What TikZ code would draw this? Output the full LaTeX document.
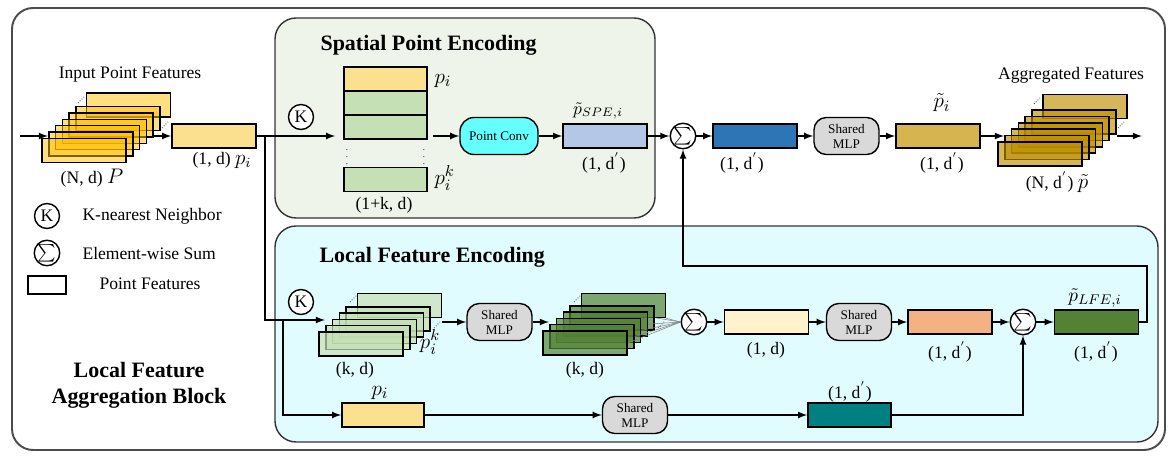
\documentclass[tikz,border=0pt]{standalone}
\usepackage{fontspec}
\setmainfont{Liberation Serif}
\usetikzlibrary{calc,positioning}

\definecolor{inyel}{HTML}{FFC000}
\definecolor{fyellow}{HTML}{FAE08F}
\definecolor{spebg}{HTML}{EEF4E9}
\definecolor{lfebg}{HTML}{E0FCFF}
\definecolor{lgreen}{HTML}{C5E0B4}
\definecolor{dgreen}{HTML}{548235}
\definecolor{pcyan}{HTML}{66FFFF}
\definecolor{pblue}{HTML}{B4C7E7}
\definecolor{dblue}{HTML}{2E75B6}
\definecolor{mlpgray}{HTML}{D9D9D9}
\definecolor{gold}{HTML}{D6B450}
\definecolor{aggold}{HTML}{C09000}
\definecolor{cream}{HTML}{FFF2CC}
\definecolor{orange}{HTML}{F4B183}
\definecolor{teal}{HTML}{008080}

\begin{document}
\begin{tikzpicture}[x=0.02cm,y=-0.02cm,line width=0.8pt,
    feat/.style={draw,line width=0.9pt,minimum width=1.68cm,minimum height=0.48cm,inner sep=0pt},
    mlp/.style={draw,fill=mlpgray,rounded corners=7pt,minimum width=1.3cm,minimum height=0.74cm,inner sep=0pt,align=center,font=\fontsize{7.5}{8.5}\selectfont},
    op/.style={draw,fill=white,circle,minimum size=0.5cm,inner sep=0pt,font=\fontsize{10}{10}\selectfont},
    lbl/.style={font=\fontsize{10}{12}\selectfont},
    mth/.style={font=\fontsize{13}{13}\selectfont},
    ttl/.style={font=\bfseries\fontsize{12.5}{15}\selectfont},
    arr/.style={-latex}]
    \fill[white] (0,0) rectangle (1174,459);
    \useasboundingbox (0,0) rectangle (1174,459);

    \draw [rounded corners=12pt,line width=1.1pt,draw=black!70] (12,8) rectangle (1165,450);
    \draw [rounded corners=12pt,fill=spebg,draw=black!80] (275,18) rectangle (655,218);
    \draw [rounded corners=12pt,fill=lfebg,draw=black!80] (275,226) rectangle (1158,442);
    \node [ttl,anchor=west] (spet) at (314,45) {Spatial Point Encoding};
    \node [ttl,anchor=west] (lfet) at (313,257) {Local Feature Encoding};

    % input point features
    \node [lbl] (intxt) at (130,75) {Input Point Features};
    \node [feat,fill=inyel,fill opacity=0.5] (inb) at (128.5,105) {};
    \foreach \i in {5,...,0}
        \node [feat,fill=inyel,fill opacity=0.5] (in\i) at ({84+6.8*\i},{150.5-6.4*\i}) {};
    \node [lbl] (inlbl) at (92,178) {(N, d) {\large$P$}};
    \coordinate (start) at (20,136);
    \draw [arr] (start) -- (start -| in1.west);

    \node [feat,fill=fyellow] (pi) at (214,136) {};
    \node [lbl] (pilbl) at (222,160) {(1, d) {\large$p_i$}};
    \draw [arr] (in4.east |- pi) -- (pi);

    % spatial point encoding
    \node [op] (k1) at (301,117) {K};
    \node [feat,fill=fyellow,minimum width=1.66cm] (s1) at (385.5,79) {};
    \node [feat,fill=lgreen,minimum width=1.66cm] (s2) at (385.5,103) {};
    \node [feat,fill=lgreen,minimum width=1.66cm] (s3) at (385.5,127) {};
    \node [feat,fill=lgreen,minimum width=1.66cm] (s4) at (385.5,179.5) {};
    \node [font=\tiny] (vd1) at (347,152) {$\vdots$};
    \node [font=\tiny] (vd2) at (424,152) {$\vdots$};
    \node [mth,anchor=west] (s1lbl) at (428,81) {$p_i$};
    \node [mth,anchor=west] (s4lbl) at (428,178) {$p_i^k$};
    \node [lbl] (slbl) at (384,205) {(1+k, d)};
    \node [draw,fill=pcyan,rounded corners=8pt,minimum width=1.56cm,minimum height=0.74cm,inner sep=0pt,font=\fontsize{7.5}{8.5}\selectfont] (pc) at (499,136) {Point Conv};
    \node [feat,fill=pblue] (pspe) at (605,136) {};
    \node [font=\fontsize{10}{10}\selectfont] (pspelbl) at (598,111) {$\tilde{p}_{SPE,i}$};
    \node [lbl] (pspedim) at (604,163) {(1, d$^{'}$)};

    \coordinate (br1) at (265,136);
    \coordinate (br2) at (283,320);
    \draw [arr,shorten >=0.16cm] (pi.east) -- (pi.east -| s3.west);
    \draw [arr,shorten <=0.1cm] (s3.east |- pc) -- (pc);
    \draw [arr] (pc) -- (pspe);

    % aggregation
    \node [op] (sum1) at (683,136) {$\sum$};
    \node [feat,fill=dblue] (blue) at (755,136) {};
    \node [lbl] (bluedim) at (742,163) {(1, d$^{'}$)};
    \node [mlp] (mlp1) at (846.5,136) {Shared\\MLP};
    \node [feat,fill=gold] (gold) at (938,136) {};
    \node [mth] (goldlbl) at (942,103) {$\tilde{p}_i$};
    \node [lbl] (golddim) at (942,163) {(1, d$^{'}$)};
    \node [lbl] (agtxt) at (1071,75) {Aggregated Features};
    \node [feat,fill=aggold,fill opacity=0.65] (agb) at (1085,106.5) {};
    \foreach \i in {5,...,0}
        \node [feat,fill=aggold,fill opacity=0.65] (ag\i) at ({1040+6.8*\i},{154-6.4*\i}) {};
    \node [lbl] (aglbl) at (1057,182) {(N, d$^{'}$) {\large$\tilde{p}$}};
    \coordinate (out) at (1142,136);
    \draw [arr] (pspe) -- (sum1);
    \draw [arr] (sum1) -- (blue);
    \draw [arr] (blue) -- (mlp1);
    \draw [arr] (mlp1) -- (gold);
    \draw [arr] (gold) -- (gold -| ag1.west);
    \draw [arr] (ag5.east |- out) -- (out);

    % legend
    \node [op] (lk) at (47,216) {K};
    \node [lbl,anchor=west] (lktxt) at (76,216) {K-nearest Neighbor};
    \node [op] (ls) at (47,253) {$\sum$};
    \node [lbl,anchor=west] (lstxt) at (76,253) {Element-wise Sum};
    \node [draw,line width=0.9pt,minimum width=0.76cm,minimum height=0.36cm,inner sep=0pt] (lf) at (47,285) {};
    \node [lbl,anchor=west] (lftxt) at (93,284) {Point Features};
    \node [ttl,align=center] (block) at (139,385) {Local Feature\\Aggregation Block};

    % local feature encoding
    \node [op] (k2) at (301,302) {K};
    \node [feat,fill=lgreen,fill opacity=0.7] (lgb) at (399.5,305.5) {};
    \foreach \i in {4,...,0}
        \node [feat,fill=lgreen,fill opacity=0.7] (lg\i) at ({361+6.8*\i},{344-6.3*\i}) {};
    \node [mth] (lglbl) at (430,342) {$p_i^k$};
    \node [lbl] (lgdim) at (355,370) {(k, d)};
    \node [mlp] (mlp2) at (499.5,322) {Shared\\MLP};
    \node [feat,fill=dgreen,fill opacity=0.7] (dgb) at (623.5,305.5) {};
    \foreach \i in {4,...,0}
        \node [feat,fill=dgreen,fill opacity=0.7] (dg\i) at ({585+6.8*\i},{343-6.3*\i}) {};
    \node [lbl] (dgdim) at (585,370) {(k, d)};
    \node [op] (sum2) at (694,322) {$\sum$};
    \node [feat,fill=cream] (cream) at (766.5,322) {};
    \node [lbl] (creamdim) at (766,350) {(1, d)};
    \node [mlp] (mlp3) at (859,322) {Shared\\MLP};
    \node [feat,fill=orange] (orange) at (950,322) {};
    \node [lbl] (orangedim) at (950,352) {(1, d$^{'}$)};
    \node [op] (sum3) at (1023,322) {$\sum$};
    \node [feat,fill=dgreen] (lfe) at (1096.5,322) {};
    \node [font=\fontsize{11}{11}\selectfont] (lfelbl) at (1095,298) {$\tilde{p}_{LFE,i}$};
    \node [lbl] (lfedim) at (1096,352) {(1, d$^{'}$)};
    \coordinate (fb) at (1147,266);

    \node [feat,fill=fyellow,minimum width=1.64cm] (pi2) at (383,415) {};
    \node [mth] (pi2lbl) at (380,393) {$p_i$};
    \node [mlp] (mlp4) at (635,415) {Shared\\MLP};
    \node [feat,fill=teal,minimum width=1.66cm] (teal) at (849.5,415) {};
    \node [lbl] (tealdim) at (850,392) {(1, d$^{'}$)};

    \draw (pi.east) -- (br1);
    \draw [arr] (br1) |- (br2 -| lg1.west);
    \draw [arr] (br2) |- (pi2);
    \draw [arr] (lgb.east |- mlp2) -- (mlp2);
    \draw [arr] (mlp2) -- (mlp2 -| dg1.west);
    \foreach \i in {0,...,4}
        \draw [gray,line width=0.3pt] (dg\i.east) -- (sum2.west);
    \draw [gray,line width=0.3pt] (dgb.south east) -- (sum2.west);
    \draw [arr] (sum2) -- (cream);
    \draw [arr] (cream) -- (mlp3);
    \draw [arr] (mlp3) -- (orange);
    \draw [arr] (orange) -- (sum3);
    \draw [arr] (sum3) -- (lfe);
    \draw [arr] (lfe.east) -| (fb) -- (fb -| sum1) -- (sum1);
    \draw [arr] (pi2) -- (mlp4);
    \draw [arr] (mlp4) -- (teal);
    \draw [arr] (teal) -| (sum3);

    % stack dots
    \foreach \p in {(78,103),(162,128),(350,302),(434,328),(574,302),(658,328),(1034,104),(1118,128)}
        \draw [densely dotted,line width=0.5pt,black!70] \p -- ++(6,-6);
\end{tikzpicture}
\end{document}
